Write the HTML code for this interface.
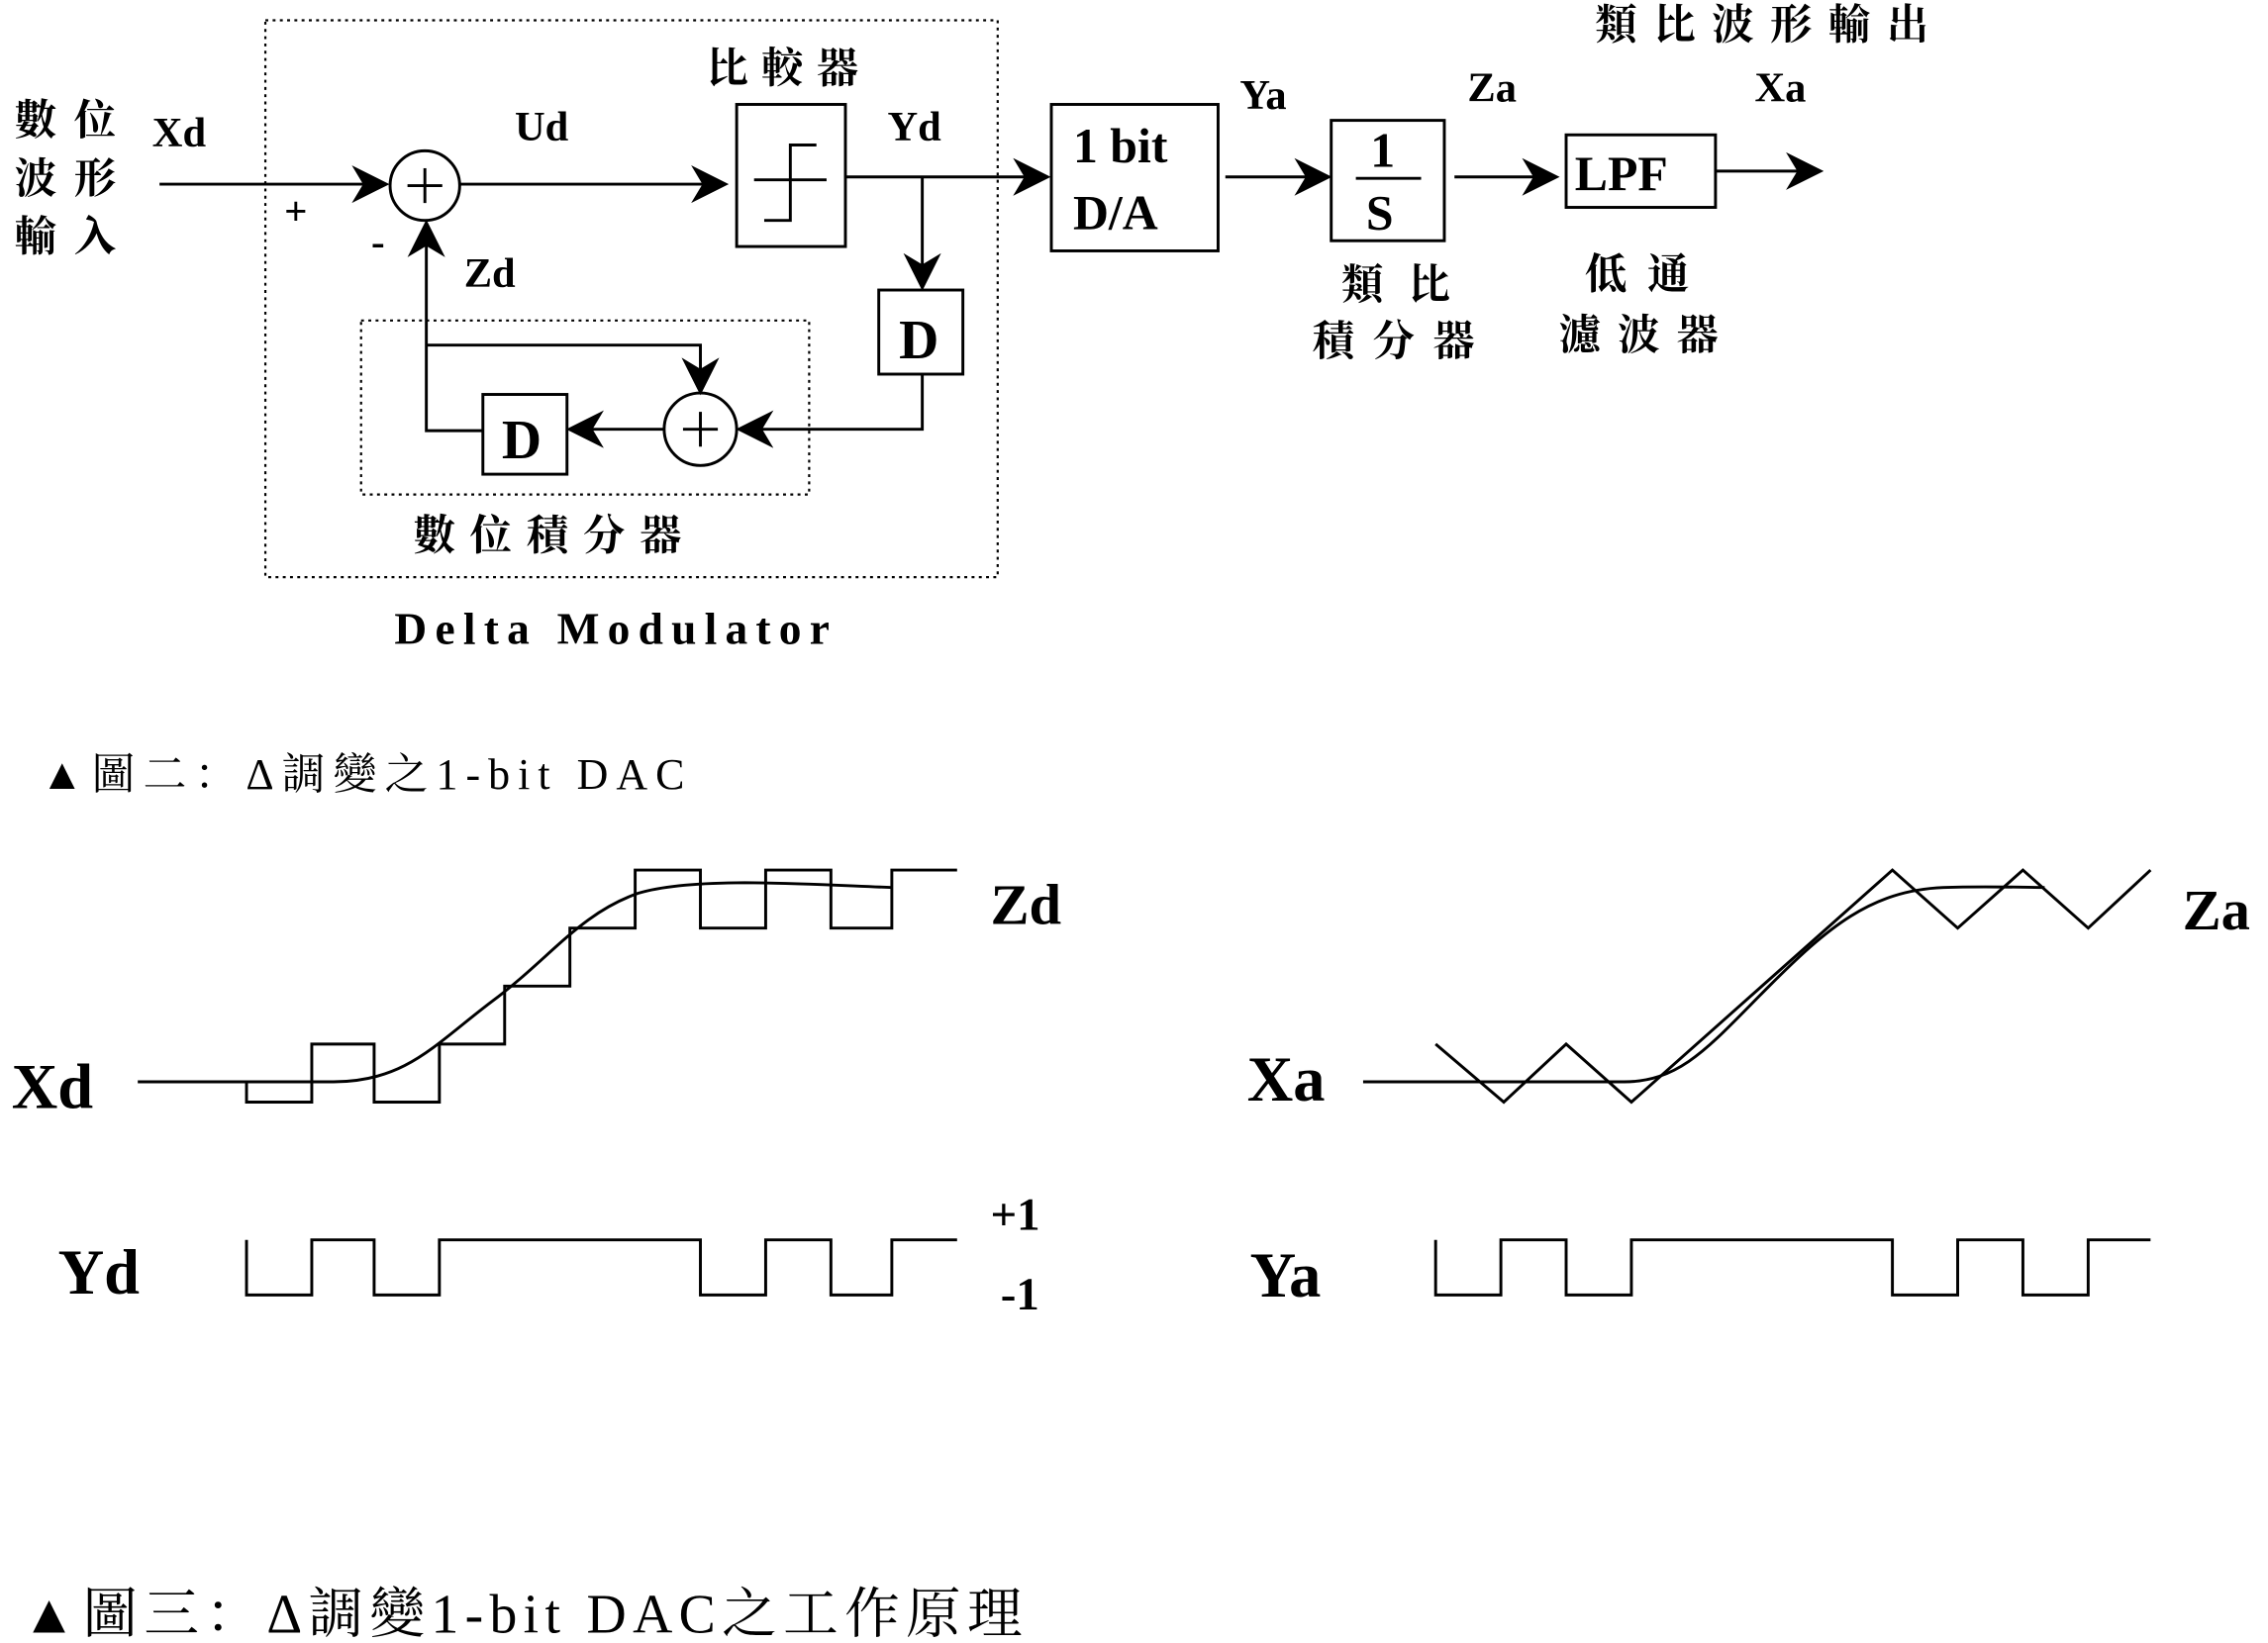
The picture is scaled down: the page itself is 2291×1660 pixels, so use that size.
<!DOCTYPE html>
<html><head><meta charset="utf-8"><style>
html,body{margin:0;padding:0;background:#fff;}
svg{display:block}
text{font-family:"Liberation Serif","Noto Serif CJK SC","Noto Sans CJK TC",serif;fill:#000}
.b{font-weight:bold}
</style></head><body>
<svg width="2291" height="1660" viewBox="0 0 1564 1133" preserveAspectRatio="none" xmlns="http://www.w3.org/2000/svg">
<defs>
<marker id="A" viewBox="0 0 10 10" refX="9" refY="5" markerWidth="26" markerHeight="26" markerUnits="userSpaceOnUse" orient="auto"><path d="M0,0 L10,5 L0,10 L3,5 z" fill="#000"/></marker></defs>
<g fill="none" stroke="#000" stroke-width="2">
<rect x="183" y="14" width="505" height="384" stroke-dasharray="2,3" stroke-width="1.5"/>
<rect x="249" y="221" width="309" height="120" stroke-dasharray="2,3" stroke-width="1.5"/>
<line x1="110" y1="127" x2="266" y2="127" marker-end="url(#A)"/>
<circle cx="293" cy="128" r="24"/>
<line x1="281" y1="128" x2="305" y2="128"/><line x1="293" y1="116" x2="293" y2="140"/>
<line x1="317" y1="127" x2="500" y2="127" marker-end="url(#A)"/>
<rect x="508" y="72" width="75" height="98"/>
<path d="M527,152 H545 V100 H563 M520,124 H570" stroke-width="2"/>
<line x1="583" y1="122" x2="722" y2="122" marker-end="url(#A)"/>
<line x1="636" y1="122" x2="636" y2="198" marker-end="url(#A)"/>
<rect x="606" y="200" width="58" height="58"/>
<polyline points="636,258 636,296 510,296" marker-end="url(#A)"/>
<circle cx="483" cy="296" r="25"/>
<line x1="471" y1="296" x2="495" y2="296"/><line x1="483" y1="284" x2="483" y2="308"/>
<line x1="458" y1="296" x2="393" y2="296" marker-end="url(#A)"/>
<rect x="333" y="272" width="58" height="55"/>
<polyline points="333,297 294,297 294,154" marker-end="url(#A)"/>
<polyline points="294,238 483,238 483,270" marker-end="url(#A)"/>
<rect x="725" y="72" width="115" height="101"/>
<line x1="845" y1="122" x2="916" y2="122" marker-end="url(#A)"/>
<rect x="918" y="83" width="78" height="83"/>
<line x1="935" y1="123" x2="980" y2="123"/>
<line x1="1003" y1="122" x2="1073" y2="122" marker-end="url(#A)"/>
<rect x="1080" y="93" width="103" height="50"/>
<line x1="1183" y1="118" x2="1255" y2="118" marker-end="url(#A)"/>
<path d="M95,746 L230,746 C280,746 300,720 340,690 C380,660 400,630 440,616 C480,604 560,610 615,612"/>
<path d="M170,746 V760 H215 V720 H258 V760 H303 V720 H348 V680 H393 V640 H438 V600 H483 V640 H528 V600 H573 V640 H615 V600 H660"/>
<path d="M170,855 V893 H215 V855 H258 V893 H303 V855 H483 V893 H528 V855 H573 V893 H615 V855 H660"/>
<path d="M940,746 L1120,746 C1160,746 1180,720 1220,680 C1260,640 1290,614 1340,612 C1370,611 1400,612 1410,612"/>
<path d="M990,720 L1037,760 L1080,720 L1125,760 L1305,600 L1350,640 L1395,600 L1440,640 L1483,600"/>
<path d="M990,855 V893 H1035 V855 H1080 V893 H1125 V855 H1305 V893 H1350 V855 H1395 V893 H1440 V855 H1483"/>
</g>
<g class="b" font-size="29">
<text x="10" y="93" textLength="70" lengthAdjust="spacing">數位</text>
<text x="10" y="133" textLength="70" lengthAdjust="spacing">波形</text>
<text x="10" y="173" textLength="70" lengthAdjust="spacing">輸入</text>
<text x="105" y="101" font-size="29">Xd</text>
<text x="196" y="155" font-size="28">+</text>
<text x="256" y="176" font-size="28">-</text>
<text x="355" y="97" font-size="29">Ud</text>
<text x="320" y="198" font-size="29">Zd</text>
<text x="487" y="57" textLength="105" lengthAdjust="spacing">比較器</text>
<text x="612" y="97" font-size="29">Yd</text>
<text x="620" y="247" font-size="38">D</text>
<text x="346" y="316" font-size="38">D</text>
<text x="285" y="379" textLength="185" lengthAdjust="spacing">數位積分器</text>
<text x="272" y="444" font-size="31" textLength="300" lengthAdjust="spacing">Delta Modulator</text>
<text x="740" y="112" font-size="34">1 bit</text>
<text x="740" y="158" font-size="34">D/A</text>
<text x="855" y="75" font-size="29">Ya</text>
<text x="945" y="115" font-size="34">1</text>
<text x="942" y="158" font-size="34">S</text>
<text x="1012" y="70" font-size="29">Za</text>
<text x="1086" y="131" font-size="34">LPF</text>
<text x="1210" y="70" font-size="29">Xa</text>
<text x="1100" y="27" textLength="230" lengthAdjust="spacing">類比波形輸出</text>
<text x="925" y="206" textLength="75" lengthAdjust="spacing">類比</text>
<text x="905" y="245" textLength="112" lengthAdjust="spacing">積分器</text>
<text x="1093" y="199" textLength="72" lengthAdjust="spacing">低通</text>
<text x="1075" y="241" textLength="110" lengthAdjust="spacing">濾波器</text>
<text x="8" y="764" font-size="44">Xd</text>
<text x="683" y="637" font-size="40">Zd</text>
<text x="40" y="892" font-size="44">Yd</text>
<text x="683" y="848" font-size="32">+1</text>
<text x="690" y="903" font-size="32">-1</text>
<text x="860" y="759" font-size="44">Xa</text>
<text x="1505" y="641" font-size="40">Za</text>
<text x="862" y="894" font-size="44">Ya</text>
</g>
<text x="28" y="544" font-size="30" textLength="444" lengthAdjust="spacing">▲圖二：Δ調變之1-bit DAC</text>
<text x="15" y="1126" font-size="38" textLength="690" lengthAdjust="spacing">▲圖三：Δ調變1-bit DAC之工作原理</text>
</svg>
</body></html>
